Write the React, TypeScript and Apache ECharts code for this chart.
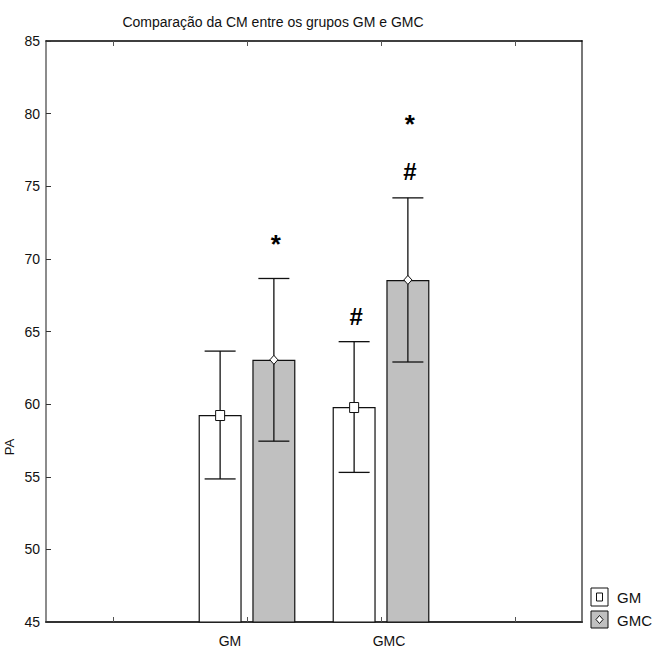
import React, { useEffect, useRef } from "react";
import * as echarts from "echarts";

const categories = ["", "GM", "GMC", ""];
const seriesNames = ["GM", "GMC"];
// [categoryIndex, mean, error]
const gmValues = [
  [1, 59.25, 4.4],
  [2, 59.8, 4.5],
];
const gmcValues = [
  [1, 63.05, 5.6],
  [2, 68.55, 5.65],
];
// [categoryIndex, seriesIndex, value, symbol]
const annotations: [number, number, number, string][] = [
  [1, 1, 71.0, "*"],
  [2, 0, 66.0, "#"],
  [2, 1, 79.3, "*"],
  [2, 1, 76.0, "#"],
];
const yMin = 45;
const yMax = 85;
const yInterval = 5;

const FONT = "'Liberation Sans Narrow', 'Arial Narrow', 'Liberation Sans', Arial, sans-serif";
const BAR_W = 43;
const BAR_GAP = 0.25;
const OFFSET = BAR_W / 2 + (BAR_W * BAR_GAP) / 2;

function barData(vals: number[][]) {
  const out: (number | string)[] = categories.map(() => "-");
  vals.forEach((v) => {
    out[v[0]] = v[1];
  });
  return out;
}

function errSeries(vals: number[][], offset: number, marker: "square" | "diamond") {
  return {
    type: "custom",
    z: 5,
    data: vals,
    encode: { x: 0, y: 1 },
    renderItem: (params: any, api: any) => {
      const x = api.value(0);
      const m = api.value(1);
      const e = api.value(2);
      const hi = api.coord([x, m + e]);
      const lo = api.coord([x, m - e]);
      const mid = api.coord([x, m]);
      const cx = hi[0] + offset;
      const capW = 31;
      const lineStyle = { stroke: "#111", lineWidth: 1.3 };
      const children: any[] = [
        { type: "line", shape: { x1: cx, y1: hi[1], x2: cx, y2: lo[1] }, style: lineStyle },
        { type: "line", shape: { x1: cx - capW / 2, y1: hi[1], x2: cx + capW / 2, y2: hi[1] }, style: lineStyle },
        { type: "line", shape: { x1: cx - capW / 2, y1: lo[1], x2: cx + capW / 2, y2: lo[1] }, style: lineStyle },
      ];
      if (marker === "square") {
        children.push({
          type: "rect",
          shape: { x: cx - 4.5, y: mid[1] - 4.5, width: 9, height: 10 },
          style: { fill: "#fff", stroke: "#111", lineWidth: 1 },
        });
      } else {
        children.push({
          type: "polygon",
          shape: {
            points: [
              [cx, mid[1] - 4.5],
              [cx + 4, mid[1]],
              [cx, mid[1] + 4.5],
              [cx - 4, mid[1]],
            ],
          },
          style: { fill: "#fff", stroke: "#111", lineWidth: 1 },
        });
      }
      return { type: "group", children };
    },
  };
}

export default function App() {
  const ref = useRef<HTMLDivElement>(null);
  useEffect(() => {
    if (!ref.current) return;
    const chart = echarts.init(ref.current, null, { renderer: "svg" });
    const annData = annotations.map((a) => [a[0], a[2], a[1], a[3]]);
    chart.setOption({
      animation: false,
      backgroundColor: "#fff",
      title: {
        text: "Comparação da CM entre os grupos GM e GMC",
        left: 268,
        top: 10,
        textAlign: "center",
        textStyle: { fontFamily: FONT, fontSize: 14, fontWeight: "normal", color: "#111" },
      },
      grid: { left: 46, top: 41, right: 74, bottom: 36 },
      xAxis: [
        {
          type: "category",
          data: categories,
          position: "bottom",
          axisLine: { lineStyle: { color: "#333", width: 2 } },
          axisTick: { show: true, inside: true, alignWithLabel: true, length: 5, lineStyle: { color: "#555" } },
          axisLabel: {
            interval: 0,
            margin: 12,
            formatter: (v: string) => (v === "GM" ? "{a|GM}" : v === "GMC" ? "{b|GMC}" : ""),
            rich: {
              a: { fontFamily: FONT, fontSize: 14, color: "#111", padding: [0, 34, 0, 0] },
              b: { fontFamily: FONT, fontSize: 14, color: "#111", padding: [0, 0, 0, 16] },
            },
          },
          splitLine: { show: false },
        },
        {
          type: "category",
          data: categories,
          position: "top",
          axisLine: { lineStyle: { color: "#000", width: 1.5 } },
          axisTick: { show: true, inside: true, alignWithLabel: true, length: 5, lineStyle: { color: "#555" } },
          axisLabel: { show: false },
          splitLine: { show: false },
        },
      ],
      yAxis: [
        {
          type: "value",
          min: yMin,
          max: yMax,
          interval: yInterval,
          position: "left",
          axisLine: { show: true, lineStyle: { color: "#666", width: 1.5 } },
          axisTick: { show: true, inside: true, length: 5, lineStyle: { color: "#333" } },
          axisLabel: { fontFamily: FONT, fontSize: 14, color: "#111", margin: 6 },
          splitLine: { show: false },
        },
        {
          type: "value",
          min: yMin,
          max: yMax,
          interval: yInterval,
          position: "right",
          axisLine: { show: true, lineStyle: { color: "#777", width: 2 } },
          axisTick: { show: false },
          axisLabel: { show: false },
          splitLine: { show: false },
        },
      ],
      series: [
        {
          name: seriesNames[0],
          type: "bar",
          data: barData(gmValues),
          barWidth: BAR_W,
          barGap: BAR_GAP * 100 + "%",
          itemStyle: { color: "#fff", borderColor: "#111", borderWidth: 1.2 },
        },
        {
          name: seriesNames[1],
          type: "bar",
          data: barData(gmcValues),
          barWidth: BAR_W,
          barGap: BAR_GAP * 100 + "%",
          itemStyle: { color: "#c0c0c0", borderColor: "#111", borderWidth: 1.2 },
        },
        errSeries(gmValues, -OFFSET, "square"),
        errSeries(gmcValues, OFFSET, "diamond"),
        {
          type: "custom",
          z: 6,
          data: annData,
          encode: { x: 0, y: 1 },
          renderItem: (params: any, api: any) => {
            const p = api.coord([api.value(0), api.value(1)]);
            const s = api.value(2) === 0 ? -OFFSET : OFFSET;
            const sym = annData[params.dataIndex][3] as string;
            return {
              type: "text",
              x: p[0] + s + 2,
              y: p[1],
              style: {
                text: sym,
                fontFamily: "'Liberation Sans', Arial, sans-serif",
                fontSize: sym === "*" ? 26 : 24,
                fontWeight: "bold",
                fill: "#000",
                align: "center",
                verticalAlign: "middle",
              },
            };
          },
        },
      ],
      graphic: [
        {
          type: "text",
          x: 9,
          y: 447,
          rotation: Math.PI / 2,
          style: { text: "PA", fontFamily: FONT, fontSize: 13, fill: "#111", align: "center", verticalAlign: "middle" },
        },
        {
          type: "rect",
          shape: { x: 591, y: 588, width: 17, height: 18 },
          style: { fill: "#fff", stroke: "#111", lineWidth: 1 },
        },
        {
          type: "rect",
          shape: { x: 596.5, y: 593, width: 6, height: 8 },
          style: { fill: "#fff", stroke: "#111", lineWidth: 1 },
        },
        {
          type: "text",
          x: 617,
          y: 597,
          style: { text: seriesNames[0], fontFamily: FONT, fontSize: 15, fill: "#111", verticalAlign: "middle" },
        },
        {
          type: "rect",
          shape: { x: 591, y: 611, width: 17, height: 17 },
          style: { fill: "#c0c0c0", stroke: "#111", lineWidth: 1 },
        },
        {
          type: "polygon",
          shape: { points: [[599.5, 615.5], [603, 619.5], [599.5, 623.5], [596, 619.5]] },
          style: { fill: "#fff", stroke: "#111", lineWidth: 1 },
        },
        {
          type: "text",
          x: 617,
          y: 620,
          style: { text: seriesNames[1], fontFamily: FONT, fontSize: 15, fill: "#111", verticalAlign: "middle" },
        },
      ],
    });
    return () => chart.dispose();
  }, []);
  return <div ref={ref} style={{ width: 656, height: 658, position: "absolute", left: 0, top: 0 }} />;
}
